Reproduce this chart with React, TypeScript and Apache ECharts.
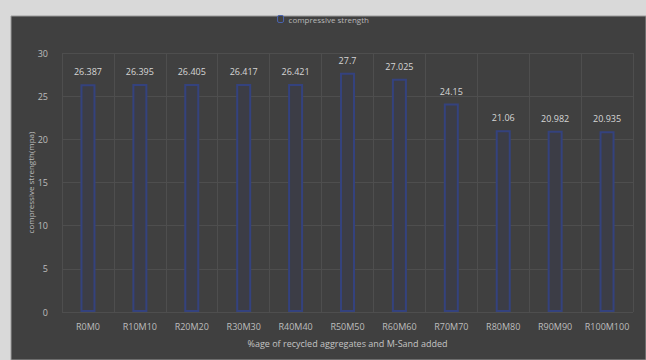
import React, { useEffect, useRef } from "react";
import * as echarts from "echarts";

const categories = ["R0M0", "R10M10", "R20M20", "R30M30", "R40M40", "R50M50", "R60M60", "R70M70", "R80M80", "R90M90", "R100M100"];
const strengthValues = [26.387, 26.395, 26.405, 26.417, 26.421, 27.7, 27.025, 24.15, 21.06, 20.982, 20.935];
const seriesName = "compressive strength";
const xAxisTitle = "%age of recycled aggregates and M-Sand added";
const yAxisTitle = "compressive strength(mpa)";

export default function App() {
  const ref = useRef<HTMLDivElement>(null);
  useEffect(() => {
    document.body.style.margin = "0";
    const chart = echarts.init(ref.current!, null, { renderer: "svg" });
    const font = "'Open Sans', 'Noto Sans', sans-serif";
    chart.setOption({
      animation: false,
      backgroundColor: "#d9d9d9",
      textStyle: { fontFamily: font },
      graphic: [
        {
          type: "rect",
          z: -10,
          silent: true,
          shape: { x: 11, y: 16, width: 635, height: 344 },
          style: { fill: "#404040", stroke: "#9a9a9a", lineWidth: 1 },
        },
      ],
      legend: {
        top: 10,
        left: "center",
        itemWidth: 6,
        itemHeight: 7,
        itemGap: 3,
        textStyle: { color: "#b8b8b8", fontSize: 8, fontFamily: font },
        itemStyle: { color: "#404040", borderColor: "#4a64b0", borderWidth: 1 },
        data: [seriesName],
      },
      grid: { left: 62, right: 13, top: 53, bottom: 48, containLabel: false },
      xAxis: {
        type: "category",
        data: categories,
        name: xAxisTitle,
        nameLocation: "middle",
        nameGap: 27,
        nameMoveOverlap: false,
        nameTextStyle: { color: "#c4c4c4", fontSize: 9, fontFamily: font },
        axisLine: { show: false },
        axisTick: { show: false },
        axisLabel: { color: "#bdbdbd", fontSize: 9, margin: 10, interval: 0, fontFamily: font },
        splitLine: { show: true, interval: 0, lineStyle: { color: "#4e4e4e", width: 1 } },
      },
      yAxis: {
        type: "value",
        min: 0,
        max: 30,
        interval: 5,
        name: yAxisTitle,
        nameLocation: "middle",
        nameGap: 28,
        nameMoveOverlap: false,
        nameTextStyle: { color: "#bdbdbd", fontSize: 8, fontFamily: font },
        axisLine: { show: false },
        axisTick: { show: false },
        axisLabel: { color: "#bdbdbd", fontSize: 9, margin: 14, fontFamily: font },
        splitLine: { lineStyle: { color: "#4e4e4e", width: 1 } },
      },
      series: [
        {
          name: seriesName,
          type: "bar",
          data: strengthValues,
          barWidth: 15,
          itemStyle: { color: "#3c3d46", borderColor: "#34427e", borderWidth: 2 },
          label: {
            show: true,
            position: "top",
            distance: 8,
            color: "#d6d6d6",
            fontSize: 9,
            fontFamily: font,
            formatter: (p: any) => String(p.value),
          },
        },
      ],
    });
    return () => chart.dispose();
  }, []);
  return <div ref={ref} style={{ width: 646, height: 360 }} />;
}
